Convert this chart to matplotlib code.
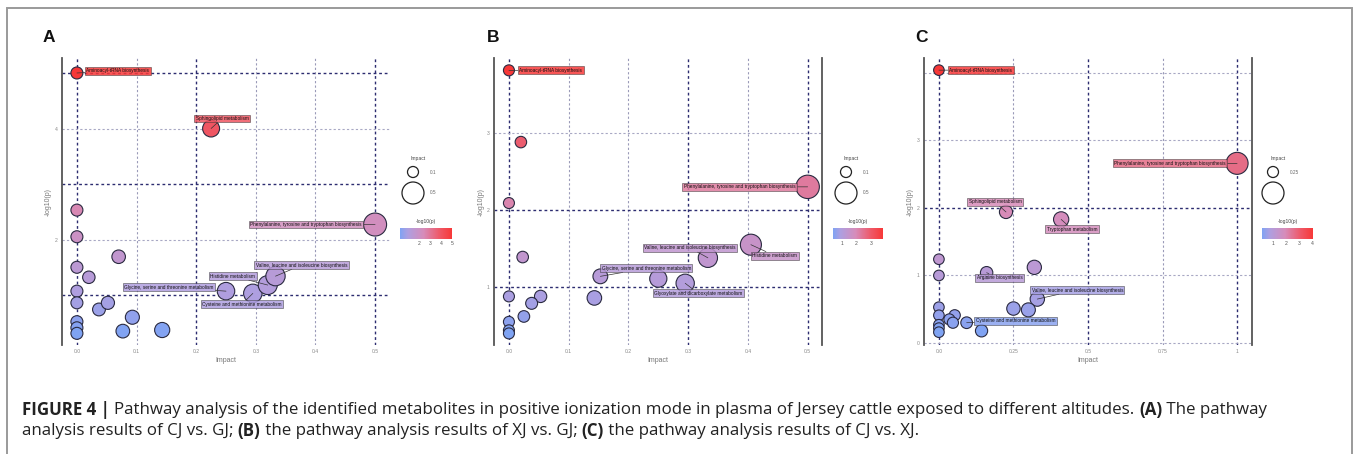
import matplotlib
matplotlib.use('Agg')
import matplotlib.pyplot as plt
from matplotlib.colors import LinearSegmentedColormap, Normalize
from matplotlib.patches import Rectangle
import matplotlib.colorbar as mcolorbar

plt.rcParams['font.family'] = ['Liberation Sans', 'DejaVu Sans']

W, H = 1360, 454

# ---- data ----
impact_a = [0.0, 0.225, 0.5, 0.0, 0.0, 0.07, 0.0, 0.02, 0.0, 0.0, 0.037, 0.052,
            0.093, 0.077, 0.143, 0.0, 0.0, 0.0, 0.25, 0.295, 0.32, 0.333]
logp_a = [5.0, 4.0, 2.27, 2.53, 2.05, 1.69, 1.5, 1.32, 1.07, 0.86, 0.74, 0.86,
          0.6, 0.35, 0.37, 0.52, 0.41, 0.31, 1.07, 1.03, 1.18, 1.34]
labels_a = {0: 'Aminoacyl-tRNA biosynthesis',
            1: 'Sphingolipid metabolism',
            2: 'Phenylalanine, tyrosine and tryptophan biosynthesis',
            21: 'Valine, leucine and isoleucine biosynthesis',
            20: 'Histidine metabolism',
            18: 'Glycine, serine and threonine metabolism',
            19: 'Cysteine and methionine metabolism'}

impact_b = [0.0, 0.02, 0.0, 0.5, 0.023, 0.405, 0.333, 0.153, 0.25, 0.295, 0.0,
            0.053, 0.038, 0.143, 0.025, 0.0, 0.0, 0.0]
logp_b = [3.81, 2.88, 2.09, 2.30, 1.39, 1.55, 1.38, 1.14, 1.11, 1.05, 0.88,
          0.88, 0.79, 0.86, 0.62, 0.55, 0.44, 0.40]
labels_b = {0: 'Aminoacyl-tRNA biosynthesis',
            3: 'Phenylalanine, tyrosine and tryptophan biosynthesis',
            6: 'Valine, leucine and isoleucine biosynthesis',
            5: 'Histidine metabolism',
            7: 'Glycine, serine and threonine metabolism',
            9: 'Glyoxylate and dicarboxylate metabolism'}

impact_c = [0.0, 1.0, 0.225, 0.41, 0.0, 0.0, 0.16, 0.32, 0.33, 0.25, 0.30, 0.0,
            0.0, 0.053, 0.035, 0.047, 0.093, 0.143, 0.0, 0.0, 0.0]
logp_c = [4.04, 2.66, 1.94, 1.83, 1.24, 1.0, 1.04, 1.12, 0.65, 0.51, 0.49, 0.53,
          0.41, 0.41, 0.35, 0.30, 0.30, 0.18, 0.27, 0.22, 0.16]
labels_c = {0: 'Aminoacyl-tRNA biosynthesis',
            1: 'Phenylalanine, tyrosine and tryptophan biosynthesis',
            2: 'Sphingolipid metabolism',
            3: 'Tryptophan metabolism',
            6: 'Arginine biosynthesis',
            8: 'Valine, leucine and isoleucine biosynthesis',
            16: 'Cysteine and methionine metabolism'}

xticks_a = [0.0, 0.1, 0.2, 0.3, 0.4, 0.5]
yticks_a = [1, 2, 3, 4, 5]
xticks_b = [0.0, 0.1, 0.2, 0.3, 0.4, 0.5]
yticks_b = [1, 2, 3]
xticks_c = [0.0, 0.25, 0.5, 0.75, 1.0]
yticks_c = [0, 1, 2, 3, 4]
cbar_ticks_a = [2, 3, 4, 5]
cbar_ticks_b = [1, 2, 3]
cbar_ticks_c = [1, 2, 3, 4]
size_legend_a = ['0.1', '0.5']
size_legend_b = ['0.1', '0.5']
size_legend_c = ['0.25', '']

cmap = LinearSegmentedColormap.from_list(
    'pw', [(0, '#7fa3f3'), (0.15, '#ae9fe0'), (0.45, '#d68cba'),
           (0.75, '#ee5a6a'), (1, '#f73838')])


def px(x0, y0, x1, y1):
    return [x0 / W, 1 - y1 / H, (x1 - x0) / W, (y1 - y0) / H]


fig = plt.figure(figsize=(W / 100, H / 100), dpi=100)
fig.patches.append(Rectangle((7 / W, -0.05), 1345 / W, 1.05 - 8 / H, transform=fig.transFigure,
                             fill=False, edgecolor='#9a9a9a', lw=1.4))

panels = [
    dict(letter='A', imp=impact_a, lp=logp_a, labels=labels_a, box=(62, 58, 390, 345),
         xlim=(-0.025, 0.525), ylim=(0.10, 5.27), xt=xticks_a, yt=yticks_a,
         ylab=[2, 4], dark_x=[0.0, 0.2, 0.5], dark_y=[1, 3, 5], right=False,
         rmin=6, rmax=11.5,
         offs={0: (41, 2), 1: (11, 10), 2: (-69, 0), 21: (26, 11), 20: (-35, 9),
               18: (-57, 4), 19: (-11, -11)},
         leg_x=413, cb=(400, 452), cbt=cbar_ticks_a, sl=size_legend_a),
    dict(letter='B', imp=impact_b, lp=logp_b, labels=labels_b, box=(494, 58, 822, 345),
         xlim=(-0.025, 0.524), ylim=(0.25, 3.97), xt=xticks_b, yt=yticks_b,
         ylab=[1, 2, 3], dark_x=[0.0, 0.3, 0.5], dark_y=[1, 2], right=True,
         rmin=5.5, rmax=11.7,
         offs={0: (42, 0), 3: (-68, 0), 6: (-18, 10), 5: (24, -11), 7: (46, 8),
               9: (13, -10)},
         leg_x=846, cb=(833, 883), cbt=cbar_ticks_b, sl=size_legend_b),
    dict(letter='C', imp=impact_c, lp=logp_c, labels=labels_c, box=(924, 58, 1252, 345),
         xlim=(-0.05, 1.05), ylim=(-0.03, 4.22), xt=xticks_c, yt=yticks_c,
         ylab=[0, 1, 2, 3], dark_x=[0.0, 0.5, 1.0], dark_y=[2], right=True,
         rmin=5.3, rmax=11,
         offs={0: (42, 0), 1: (-67, 0), 2: (-11, 10), 3: (11, -10), 6: (13, -5),
               8: (40, 9), 16: (49, 2)},
         leg_x=1273, cb=(1262, 1313), cbt=cbar_ticks_c, sl=size_legend_c),
]

for p in panels:
    x0, y0, x1, y1 = p['box']
    ax = fig.add_axes(px(x0, y0, x1, y1))
    ax.set_xlim(*p['xlim'])
    ax.set_ylim(*p['ylim'])
    for s in ['top', 'bottom']:
        ax.spines[s].set_visible(False)
    ax.spines['left'].set_color('#555555')
    ax.spines['left'].set_linewidth(1.3)
    ax.spines['right'].set_visible(p['right'])
    ax.spines['right'].set_color('#555555')
    ax.spines['right'].set_linewidth(1.3)

    for xv in p['xt']:
        dark = xv in p['dark_x']
        ax.axvline(xv, color='#2c2c70' if dark else '#9a9ab8', lw=1.0 if dark else 0.8,
                   ls=(0, (2, 2)), zorder=0)
    for yv in p['yt']:
        dark = yv in p['dark_y']
        ax.axhline(yv, color='#2c2c70' if dark else '#a8a8c4', lw=1.0 if dark else 0.8,
                   ls=(0, (2, 2)), zorder=0)

    ax.set_xticks(p['xt'])
    ax.set_xticklabels([f'{v:g}' if v != 0 else '0.0' for v in p['xt']])
    ax.set_yticks(p['ylab'])
    ax.tick_params(length=0, labelsize=3.6, labelcolor='#888888', pad=3)
    ax.set_xlabel('Impact', fontsize=5, color='#777777', labelpad=2)
    ax.set_ylabel('-log10(p)', fontsize=5, color='#777777', labelpad=2)

    imp, lp = p['imp'], p['lp']
    norm = Normalize(vmin=min(lp), vmax=max(lp))
    imax = max(imp)
    radii = [p['rmin'] + (p['rmax'] - p['rmin']) * v / imax for v in imp]
    sizes = [(2 * r * 0.72) ** 2 for r in radii]
    colors = [cmap(norm(v)) for v in lp]
    ax.scatter(imp, lp, s=sizes, c=colors, edgecolors='#2a2a40', linewidths=0.8,
               zorder=3, clip_on=False)

    for i, txt in p['labels'].items():
        dx, dy = p['offs'][i]
        col = cmap(norm(lp[i]))
        ax.annotate(txt, xy=(imp[i], lp[i]), xytext=(dx, dy), textcoords='offset pixels',
                    ha='center', va='center', fontsize=3.4, color='#111111', zorder=5,
                    bbox=dict(boxstyle='square,pad=0.3', fc=col, ec='#333333', lw=0.4,
                              alpha=0.85),
                    arrowprops=dict(arrowstyle='-', color='#333333', lw=0.5,
                                    shrinkA=0, shrinkB=0))

    letter_x = {'A': 43, 'B': 487, 'C': 915}[p['letter']]
    fig.text(letter_x / W, 1 - 37 / H, p['letter'], fontsize=12.5, fontweight='bold',
             ha='left', va='center', color='#111111')

    # size legend
    lx = p['leg_x']
    lg = fig.add_axes(px(lx - 20, 150, lx + 40, 210))
    lg.set_xlim(lx - 20, lx + 40)
    lg.set_ylim(210, 150)
    lg.axis('off')
    lg.text(lx + 5, 159, 'Impact', fontsize=3.6, color='#444444', ha='center', va='center')
    lg.scatter([lx, lx], [172, 193], s=[(2 * 5.5 * 0.72) ** 2, (2 * 11 * 0.72) ** 2],
               facecolors='none', edgecolors='#222222', linewidths=0.9, clip_on=False)
    lg.text(lx + 17, 172, p['sl'][0], fontsize=3.4, color='#666666', ha='left', va='center')
    lg.text(lx + 17, 193, p['sl'][1], fontsize=3.4, color='#666666', ha='left', va='center')

    # colour legend
    c0, c1 = p['cb']
    fig.text((c0 + c1) / 2 / W, 1 - 222 / H, '-log10(p)', fontsize=3.6, color='#444444',
             ha='center', va='center')
    cax = fig.add_axes(px(c0, 228, c1, 239))
    cb = mcolorbar.ColorbarBase(cax, cmap=cmap, norm=norm, orientation='horizontal')
    cb.outline.set_visible(False)
    cb.set_ticks(p['cbt'])
    cax.tick_params(length=0, labelsize=3.6, labelcolor='#555555', pad=1.5)

# caption with bold pieces
renderer = fig.canvas.get_renderer()
cap_lines = [
    [('FIGURE 4 | ', 'bold'),
     ('Pathway analysis of the identified metabolites in positive ionization mode in plasma '
      'of Jersey cattle exposed to different altitudes. ', 'normal'),
     ('(A)', 'bold'), (' The pathway', 'normal')],
    [('analysis results of CJ vs. GJ; ', 'normal'), ('(B)', 'bold'),
     (' the pathway analysis results of XJ vs. GJ; ', 'normal'), ('(C)', 'bold'),
     (' the pathway analysis results of CJ vs. XJ.', 'normal')],
]
for row, yc in zip(cap_lines, [410, 431]):
    xcur = 22
    for txt, wgt in row:
        t = fig.text(xcur / W, 1 - yc / H, txt, fontsize=12.2, fontweight=wgt,
                     family=['Open Sans', 'DejaVu Sans'],
                     color='#222222', ha='left', va='center')
        bb = t.get_window_extent(renderer)
        xcur += bb.width

fig.savefig('out.png', dpi=100)
